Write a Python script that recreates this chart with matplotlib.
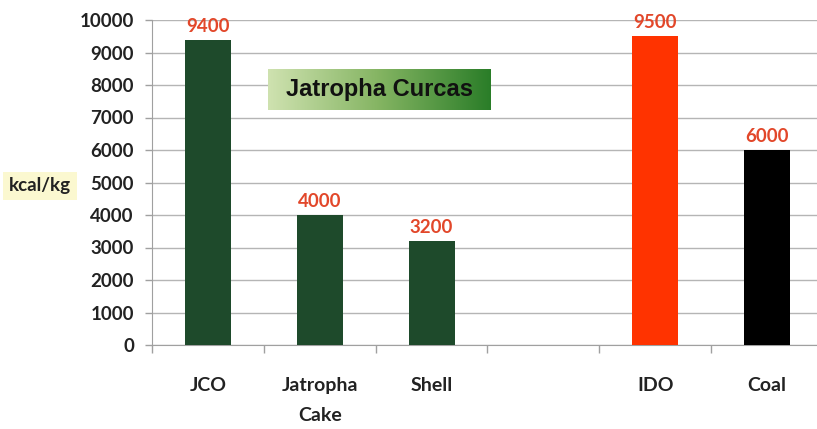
import numpy as np
import matplotlib
matplotlib.use('Agg')
import matplotlib.pyplot as plt
from matplotlib.colors import LinearSegmentedColormap

categories = ['JCO', 'Jatropha\nCake', 'Shell', '', 'IDO', 'Coal']
values = [9400, 4000, 3200, np.nan, 9500, 6000]
bar_colors = ['#1e4a2b', '#1e4a2b', '#1e4a2b', 'white', '#ff3300', '#000000']
yticks = [0, 1000, 2000, 3000, 4000, 5000, 6000, 7000, 8000, 9000, 10000]

plt.rcParams['font.family'] = ['Lato', 'DejaVu Sans']

fig = plt.figure(figsize=(8.17, 4.29), dpi=100)
ax = fig.add_axes([152/817, 1 - 345/429, 671/817, 325/429])

x = np.arange(len(categories))
ax.bar(x, values, width=0.41, color=bar_colors, zorder=3)

# value labels
for xi, v in zip(x, values):
    if not np.isnan(v):
        ax.text(xi, v + 150, f'{int(v)}', ha='center', va='bottom',
                fontsize=13.5, fontweight='bold', color='#e2472a', zorder=4)

ax.set_xlim(-0.5, len(categories) - 0.5)
ax.set_ylim(0, 10000)
ax.set_yticks(yticks)
ax.set_yticklabels([str(t) for t in yticks], fontsize=13.5, fontweight='bold', color='#222222')
ax.tick_params(axis='y', length=5, width=1, color='#a0a0a0', pad=8)

# category separators as major ticks, labels on minor ticks at centres
ax.set_xticks(np.arange(-0.5, len(categories)), labels=[''] * (len(categories) + 1))
ax.tick_params(axis='x', which='major', length=6, width=1, color='#a0a0a0')
ax.set_xticks(x, minor=True)
ax.set_xticklabels(categories, minor=True, fontsize=14, fontweight='bold',
                   color='#222222', linespacing=1.95, va='top')
ax.tick_params(axis='x', which='minor', length=0, pad=23)

ax.grid(axis='y', color='#b5b5b5', linewidth=1, zorder=0)
for s in ['top', 'right']:
    ax.spines[s].set_visible(False)
ax.spines['left'].set_color('#a0a0a0')
ax.spines['bottom'].set_color('#a0a0a0')

# "Jatropha Curcas" box with green gradient
cmap = LinearSegmentedColormap.from_list('g', ['#cfe2b0', '#84b462', '#2a7d28'])
bx0, bx1 = (268 - 152) / 671, (491 - 152) / 671
by0, by1 = (345 - 110) / 325, (345 - 69) / 325
grad = np.linspace(0, 1, 256).reshape(1, -1)
ax.imshow(grad, cmap=cmap, extent=[bx0, bx1, by0, by1], transform=ax.transAxes,
          aspect='auto', zorder=5)
ax.text((bx0 + bx1) / 2, (by0 + by1) / 2, 'Jatropha Curcas', transform=ax.transAxes,
        ha='center', va='center', fontsize=17, fontweight='bold', color='#111111',
        family='Liberation Sans', zorder=6)

# y-axis unit label
fig.text(40/817, 1 - 186/429, 'kcal/kg', ha='center', va='center', fontsize=13.5,
         fontweight='bold', color='#222222',
         bbox=dict(boxstyle='square,pad=0.3', facecolor='#fbf8d0', edgecolor='none'))

fig.savefig('out.png', dpi=100)
